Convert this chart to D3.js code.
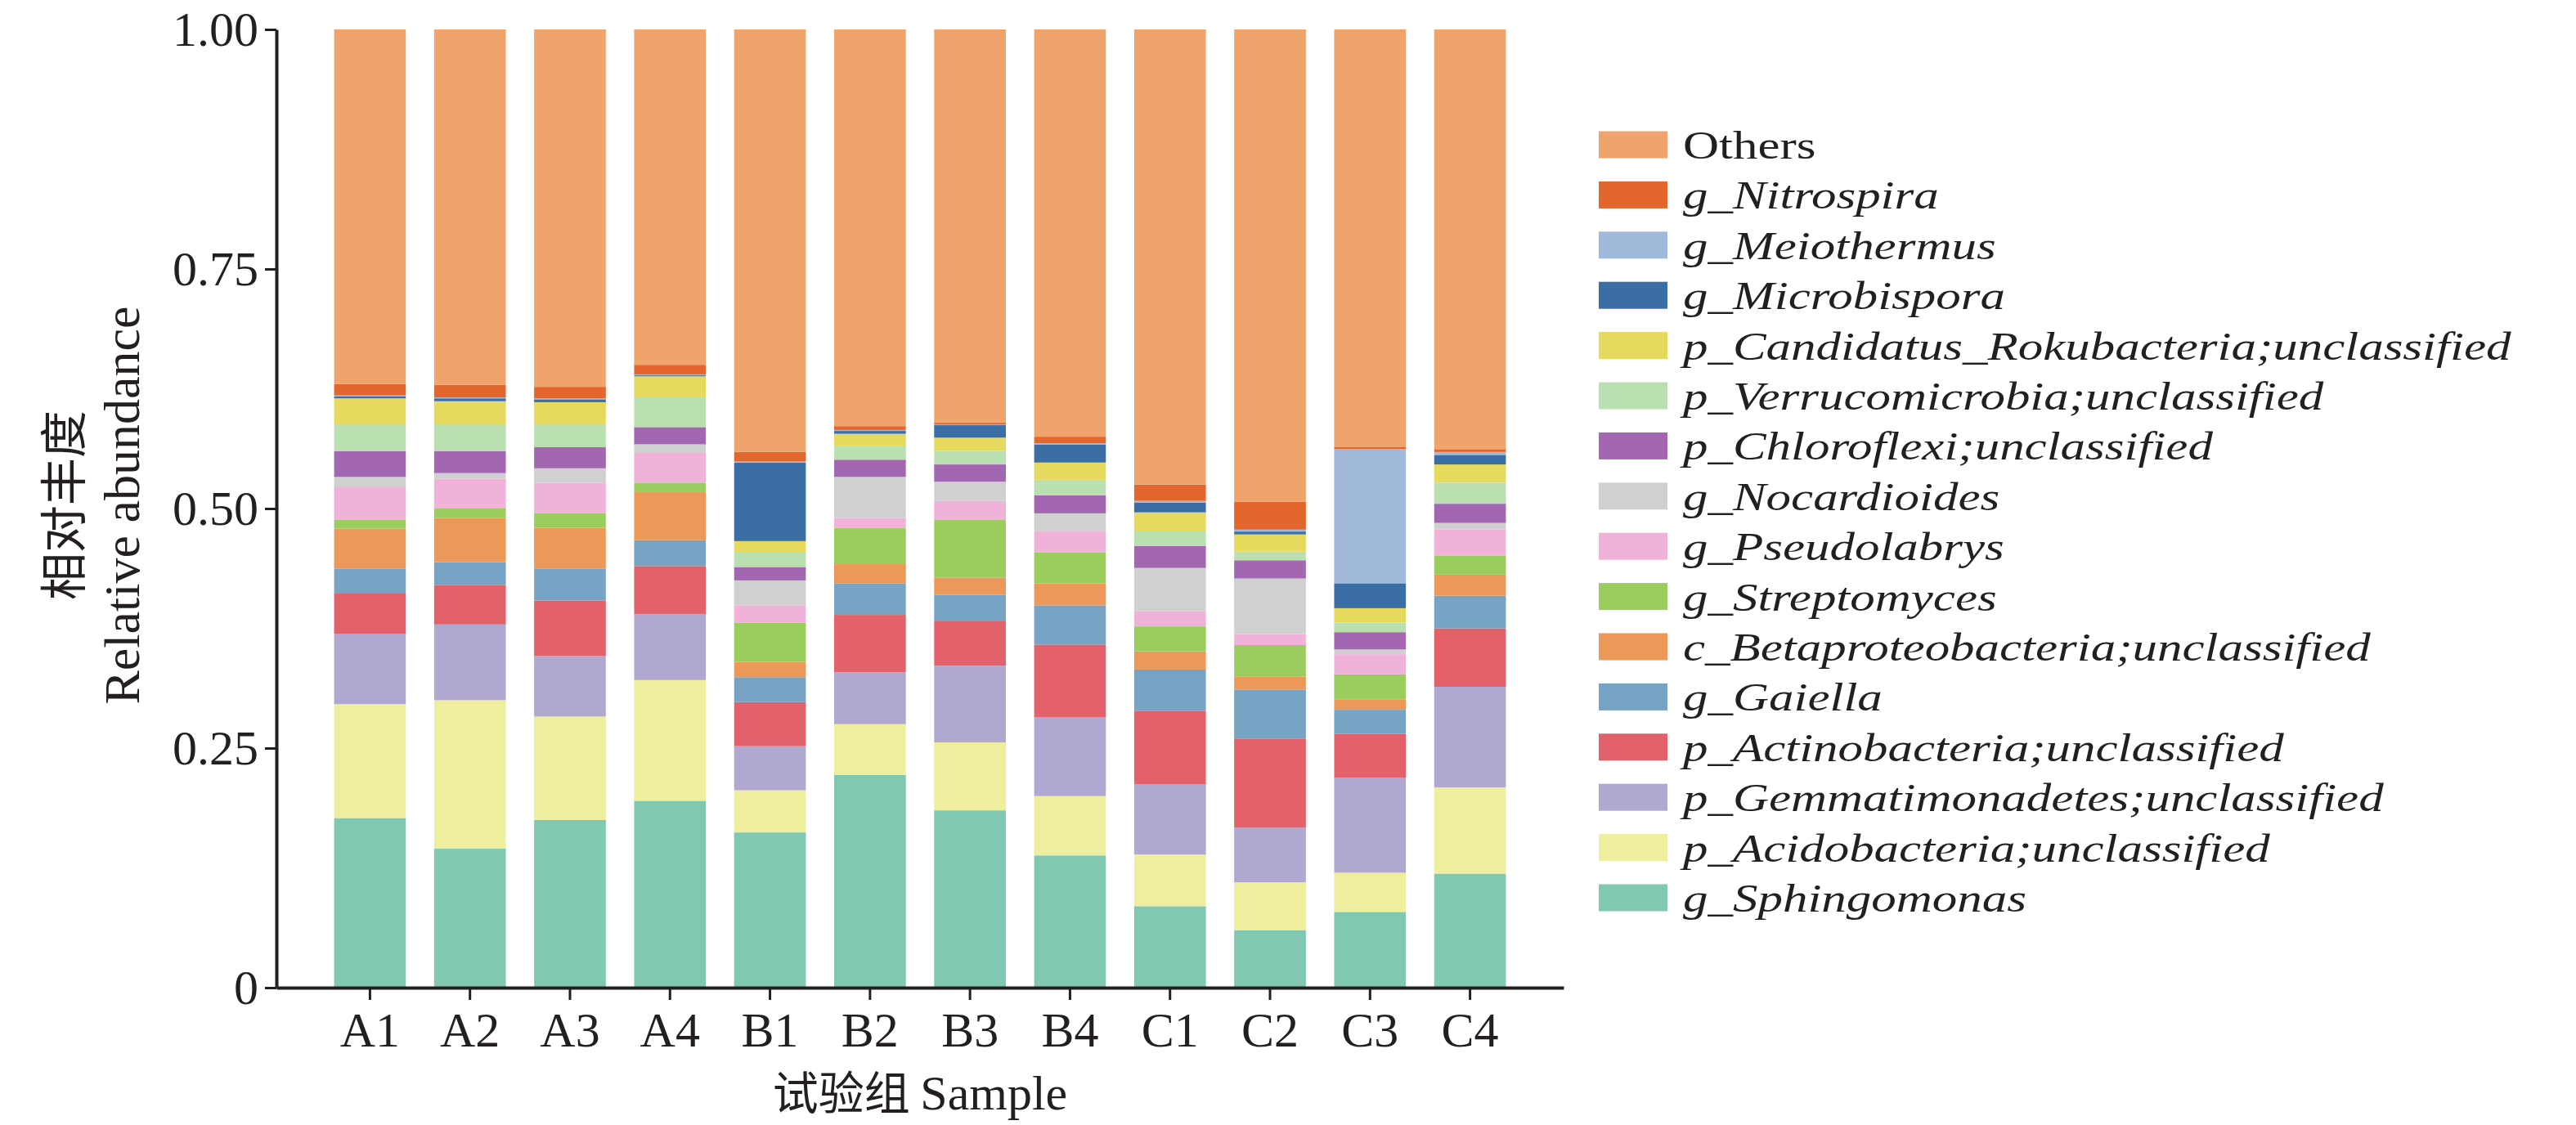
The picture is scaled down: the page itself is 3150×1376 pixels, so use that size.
<!DOCTYPE html>
<html><head><meta charset="utf-8">
<script src="https://cdn.jsdelivr.net/npm/d3@7/dist/d3.min.js"></script>
<style>
html,body{margin:0;padding:0;background:#fff;}
svg{display:block;}
text{fill:#231f20;}
</style></head>
<body>
<svg id="chart" width="3150" height="1376"></svg>
<script>
// ---- data (relative abundance per sample) ----
const samples = ["A1","A2","A3","A4","B1","B2","B3","B4","C1","C2","C3","C4"];
const yTicks = [0, 0.25, 0.5, 0.75, 1];
const yTickLabels = ["0", "0.25", "0.50", "0.75", "1.00"];

// stack order bottom -> top
const taxa = [
  "g_Sphingomonas",
  "p_Acidobacteria;unclassified",
  "p_Gemmatimonadetes;unclassified",
  "p_Actinobacteria;unclassified",
  "g_Gaiella",
  "c_Betaproteobacteria;unclassified",
  "g_Streptomyces",
  "g_Pseudolabrys",
  "g_Nocardioides",
  "p_Chloroflexi;unclassified",
  "p_Verrucomicrobia;unclassified",
  "p_Candidatus_Rokubacteria;unclassified",
  "g_Microbispora",
  "g_Meiothermus",
  "g_Nitrospira",
  "Others"
];
const colors = [
  "#80c8b2", "#eeee9e", "#b0a8d0", "#e3616a", "#77a3c4", "#eb9858",
  "#9acd5e", "#f0b2d8", "#d0d0d0", "#a267b0", "#badfb0", "#e5d95e",
  "#3c6ea6", "#a1b9da", "#e3672c", "#eea46c"
];

const sphingomonas     = [0.177,0.145,0.175,0.195,0.162,0.222,0.185,0.138,0.085,0.060,0.079,0.119];
const acidobacteria    = [0.119,0.155,0.108,0.126,0.044,0.053,0.071,0.062,0.054,0.050,0.041,0.090];
const gemmatimonadetes = [0.073,0.079,0.063,0.069,0.046,0.054,0.080,0.082,0.073,0.057,0.099,0.105];
const actinobacteria   = [0.043,0.041,0.058,0.050,0.046,0.060,0.047,0.076,0.077,0.093,0.046,0.061];
const gaiella          = [0.025,0.024,0.033,0.027,0.026,0.033,0.027,0.041,0.043,0.051,0.025,0.034];
const betaproteo       = [0.042,0.046,0.043,0.050,0.016,0.020,0.018,0.023,0.019,0.0135,0.011,0.022];
const streptomyces     = [0.009,0.010,0.015,0.010,0.041,0.038,0.060,0.032,0.026,0.033,0.026,0.020];
const pseudolabrys     = [0.035,0.031,0.032,0.031,0.018,0.010,0.020,0.022,0.016,0.0115,0.021,0.027];
const nocardioides     = [0.010,0.006,0.015,0.009,0.026,0.043,0.020,0.019,0.045,0.058,0.005,0.007];
const chloroflexi      = [0.027,0.023,0.022,0.018,0.014,0.018,0.018,0.019,0.023,0.019,0.018,0.020];
const verrucomicrobia  = [0.028,0.028,0.024,0.031,0.015,0.014,0.014,0.016,0.016,0.009,0.010,0.022];
const rokubacteria     = [0.027,0.024,0.023,0.022,0.012,0.013,0.014,0.018,0.019,0.018,0.015,0.019];
const microbispora     = [0.002,0.003,0.003,0.001,0.082,0.003,0.013,0.019,0.010,0.003,0.026,0.010];
const meiothermus      = [0.001,0.001,0.001,0.001,0.001,0.001,0.0005,0.001,0.002,0.002,0.140,0.003];
const nitrospira       = [0.012,0.013,0.012,0.010,0.010,0.004,0.002,0.007,0.017,0.029,0.002,0.003];
const others           = [0.370,0.371,0.373,0.350,0.441,0.414,0.4105,0.425,0.475,0.493,0.436,0.438];

const seriesValues = [sphingomonas, acidobacteria, gemmatimonadetes, actinobacteria, gaiella,
  betaproteo, streptomyces, pseudolabrys, nocardioides, chloroflexi, verrucomicrobia,
  rokubacteria, microbispora, meiothermus, nitrospira, others];

// table for d3.stack
const table = samples.map((s, i) => {
  const row = {sample: s};
  taxa.forEach((t, k) => row[t] = seriesValues[k][i]);
  return row;
});

const svg = d3.select("#chart");
const serif = "'Liberation Serif','Times New Roman',serif";
const cjk = "'Noto Sans CJK SC',sans-serif";

const x = d3.scaleBand().domain(samples).range([338, 1912]).paddingInner(0.283).paddingOuter(0.577);
const y = d3.scaleLinear().domain([0, 1]).range([1208, 36]);
const color = d3.scaleOrdinal().domain(taxa).range(colors);

const stacked = d3.stack().keys(taxa)(table);

svg.append("g").selectAll("g").data(stacked).join("g")
  .attr("fill", d => color(d.key))
  .selectAll("rect").data(d => d).join("rect")
  .attr("x", d => x(d.data.sample))
  .attr("width", x.bandwidth())
  .attr("y", d => y(d[1]))
  .attr("height", d => Math.max(0, y(d[0]) - y(d[1])));

// y axis
const yAxis = svg.append("g").attr("transform", "translate(338,0)")
  .call(d3.axisLeft(y).tickValues(yTicks).tickFormat((d, i) => yTickLabels[i]).tickSize(14).tickPadding(8).tickSizeOuter(0));
yAxis.select(".domain").attr("stroke", "#231f20").attr("stroke-width", 4);
yAxis.selectAll(".tick line").attr("stroke", "#231f20").attr("stroke-width", 3);
yAxis.selectAll(".tick text").attr("font-family", serif).attr("font-size", 60).attr("fill", "#231f20");

// x axis
const xAxis = svg.append("g").attr("transform", "translate(0,1208)")
  .call(d3.axisBottom(x).tickSize(15).tickPadding(14).tickSizeOuter(0));
xAxis.select(".domain").attr("stroke", "#231f20").attr("stroke-width", 4);
xAxis.selectAll(".tick line").attr("stroke", "#231f20").attr("stroke-width", 3);
xAxis.selectAll(".tick text").attr("font-family", serif).attr("font-size", 60).attr("fill", "#231f20");

// axis titles
svg.append("text").attr("transform", "translate(74,618) rotate(-90)")
  .attr("text-anchor", "middle").attr("dominant-baseline", "central")
  .attr("font-family", cjk).attr("font-size", 58).text("相对丰度");
svg.append("text").attr("transform", "translate(170,618) rotate(-90)")
  .attr("text-anchor", "middle")
  .attr("font-family", serif).attr("font-size", 62).text("Relative abundance");

const xt = svg.append("text").attr("x", 1125).attr("y", 1357).attr("text-anchor", "middle")
  .attr("font-size", 60);
xt.append("tspan").attr("font-family", cjk).attr("font-size", 56).text("试验组 ");
xt.append("tspan").attr("font-family", serif).text("Sample");

// legend (top -> bottom is reverse of stack order)
const legendItems = taxa.slice().reverse();
const lg = svg.append("g");
const rows = lg.selectAll("g").data(legendItems).join("g")
  .attr("transform", (d, i) => `translate(1955,${177 + i * 61.4})`);
rows.append("rect").attr("x", 0).attr("y", -16.5).attr("width", 84).attr("height", 33)
  .attr("fill", d => color(d));
rows.append("text")
  .attr("transform", "translate(103,17) scale(1.27,1)")
  .attr("font-family", serif).attr("font-size", 48)
  .attr("font-style", d => d === "Others" ? "normal" : "italic")
  .text(d => d);
</script>
</body></html>
